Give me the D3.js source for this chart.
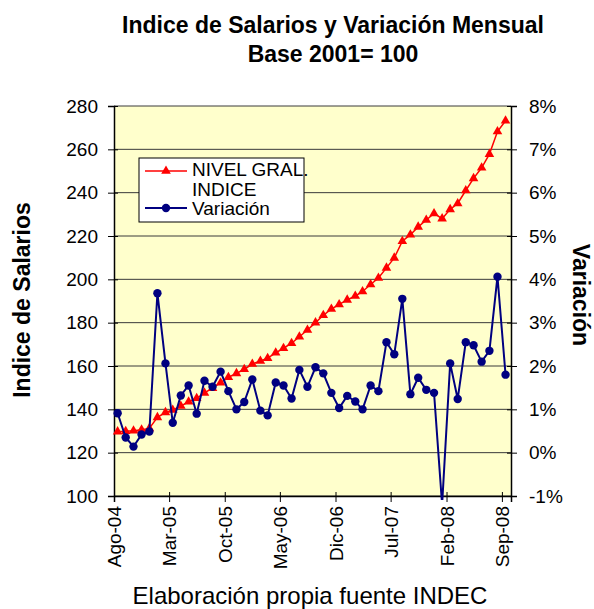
<!DOCTYPE html>
<html>
<head>
<meta charset="utf-8">
<title>Indice de Salarios</title>
<script src="https://cdn.jsdelivr.net/npm/d3@7"></script>
<style>
	body { margin: 0; background: white; }
	svg text { font-family: "Liberation Sans", Arial, sans-serif; fill: black; }
	.tick_label { font-size: 19px; }
	.ax_title { font-size: 23px; font-weight: bold; }
</style>
</head>
<body>
<svg id="chart" width="594" height="609"></svg>
<script>

	// monthly, Ago-04 .. Sep-08
	var nivel = [
		129.7, 129.9, 130.1, 130.6, 131.2, 136.3, 138.6, 139.7, 141.5, 143.5,
		145.1, 147.6, 149.8, 152.3, 154.8, 156.6, 158.5, 160.9, 162.3, 163.6,
		166.1, 168.2, 170.5, 173.5, 176.6, 180.0, 183.4, 186.3, 188.4, 190.5,
		192.3, 194.4, 197.6, 200.6, 205.3, 209.9, 217.6, 220.6, 224.2, 227.4,
		230.4, 228.0, 232.3, 235.0, 241.0, 246.6, 251.5, 257.8, 268.2, 273.2 ]

	var variacion = [
		0.91, 0.35, 0.14, 0.42, 0.49, 3.68, 2.06, 0.69, 1.32, 1.55,
		0.90, 1.66, 1.52, 1.87, 1.42, 1.00, 1.17, 1.69, 0.97, 0.86,
		1.62, 1.55, 1.25, 1.91, 1.52, 1.97, 1.83, 1.38, 1.03, 1.31,
		1.18, 1.00, 1.55, 1.42, 2.55, 2.27, 3.55, 1.35, 1.73, 1.45,
		1.38, -1.20, 2.06, 1.24, 2.55, 2.48, 2.10, 2.35, 4.06, 1.80 ]

	var tick_labels = [ "Ago-04", "Mar-05", "Oct-05", "May-06", "Dic-06", "Jul-07", "Feb-08", "Sep-08" ]
	var left_ticks = d3.range( 100, 281, 20 )
	var right_ticks = d3.range( -1, 9, 1 )

	// data points sit mid-month, ticks on the first day
	var months = d3.timeMonth.range( new Date( 2004, 7, 1 ), new Date( 2008, 9, 1 ) )
	var data = months.map( function( m, i ) {
		return { date: d3.timeDay.offset( m, 14 ), nivel: nivel[i], variacion: variacion[i] } } )
	var tick_dates = d3.range( 0, 50, 7 ).map( i => months[i] )

	var pLeft = 114, pRight = 511, pTop = 106, pBottom = 496

	var x = d3.scaleTime()
		.domain( [ new Date( 2004, 7, 1 ), new Date( 2008, 9, 6 ) ] )
		.range( [ pLeft, pRight ] )
	var yL = d3.scaleLinear().domain( [ 100, 280 ] ).range( [ pBottom, pTop ] )
	var yR = d3.scaleLinear().domain( [ -1, 8 ] ).range( [ pBottom, pTop ] )

	var svg = d3.select( "#chart" )

	svg.append( "rect" )
		.attr( "x", pLeft ).attr( "y", pTop )
		.attr( "width", pRight - pLeft ).attr( "height", pBottom - pTop )
		.attr( "fill", "#ffffcc" )

	svg.append( "clipPath" ).attr( "id", "clip" )
		.append( "rect" )
			.attr( "x", pLeft - 6 ).attr( "y", pTop - 6 )
			.attr( "width", pRight - pLeft + 12 ).attr( "height", pBottom - pTop + 10 )

	// gridlines
	svg.append( "g" )
		.selectAll( "line" )
		.data( left_ticks ).enter().append( "line" )
			.attr( "x1", pLeft ).attr( "x2", pRight )
			.attr( "y1", d => yL( d ) ).attr( "y2", d => yL( d ) )
			.attr( "stroke", "#3a3a3a" ).attr( "stroke-width", 1 )

	// axes
	var axL = svg.append( "g" ).attr( "transform", "translate(" + pLeft + ",0)" )
		.call( d3.axisLeft( yL ).tickValues( left_ticks ).tickSize( 6 ).tickPadding( 10 ) )
	var axR = svg.append( "g" ).attr( "transform", "translate(" + pRight + ",0)" )
		.call( d3.axisRight( yR ).tickValues( right_ticks ).tickSize( 6 ).tickPadding( 12 )
			.tickFormat( d => d + "%" ) )
	var axB = svg.append( "g" ).attr( "transform", "translate(0," + pBottom + ")" )
		.call( d3.axisBottom( x ).tickValues( tick_dates ).tickSize( 6 )
			.tickFormat( ( d, i ) => tick_labels[i] ) )

	;[ axL, axR, axB ].forEach( function( ax ) {
		ax.attr( "font-size", null ).attr( "font-family", null )
		ax.select( ".domain" ).attr( "stroke", "black" ).attr( "stroke-width", 1.5 )
		ax.selectAll( ".tick line" ).attr( "stroke", "black" ).attr( "stroke-width", 1 )
		ax.selectAll( "text" ).attr( "class", "tick_label" ).attr( "fill", "black" )
	} )
	axL.selectAll( ".tick line" ).attr( "x2", -6 ).attr( "x1", 4 )
	axR.selectAll( ".tick line" ).attr( "x1", -4 ).attr( "x2", 6 )
	axB.selectAll( ".tick line" ).attr( "y1", -4 ).attr( "y2", 6 )
	axB.selectAll( "text" )
		.attr( "transform", "rotate(-90)" )
		.attr( "text-anchor", "end" )
		.attr( "x", -10 ).attr( "y", 0 ).attr( "dy", "0.35em" )

	var plot = svg.append( "g" ).attr( "clip-path", "url(#clip)" )

	// NIVEL GRAL. INDICE
	plot.append( "path" )
		.datum( data )
		.attr( "fill", "none" ).attr( "stroke", "#ff0000" ).attr( "stroke-width", 1.5 )
		.attr( "d", d3.line().x( d => x( d.date ) ).y( d => yL( d.nivel ) ) )
	plot.selectAll( "path.tri" )
		.data( data ).enter().append( "path" )
			.attr( "class", "tri" )
			.attr( "d", d3.symbol( d3.symbolTriangle, 40 ) )
			.attr( "transform", d => "translate(" + x( d.date ) + "," + yL( d.nivel ) + ")" )
			.attr( "fill", "#ff0000" )

	// Variacion
	plot.append( "path" )
		.datum( data )
		.attr( "fill", "none" ).attr( "stroke", "#000080" ).attr( "stroke-width", 2 )
		.attr( "d", d3.line().x( d => x( d.date ) ).y( d => yR( d.variacion ) ) )
	plot.selectAll( "circle" )
		.data( data.filter( d => d.variacion >= -1 ) ).enter().append( "circle" )
			.attr( "cx", d => x( d.date ) )
			.attr( "cy", d => yR( d.variacion ) )
			.attr( "r", 4.2 )
			.attr( "fill", "#000080" )

	// legend
	var lg = svg.append( "g" )
	lg.append( "rect" )
		.attr( "x", 139 ).attr( "y", 158 ).attr( "width", 165 ).attr( "height", 64 )
		.attr( "fill", "white" ).attr( "stroke", "black" ).attr( "stroke-width", 1 )
	lg.append( "line" ).attr( "x1", 145 ).attr( "x2", 187 ).attr( "y1", 171 ).attr( "y2", 171 )
		.attr( "stroke", "#ff0000" ).attr( "stroke-width", 1.5 )
	lg.append( "path" ).attr( "d", d3.symbol( d3.symbolTriangle, 40 ) )
		.attr( "transform", "translate(166,171)" ).attr( "fill", "#ff0000" )
	lg.append( "line" ).attr( "x1", 145 ).attr( "x2", 187 ).attr( "y1", 208 ).attr( "y2", 208 )
		.attr( "stroke", "#000080" ).attr( "stroke-width", 2 )
	lg.append( "circle" ).attr( "cx", 166 ).attr( "cy", 208 ).attr( "r", 4.2 ).attr( "fill", "#000080" )
	lg.append( "text" ).attr( "class", "tick_label" ).attr( "x", 192 ).attr( "y", 176 ).text( "NIVEL GRAL." )
	lg.append( "text" ).attr( "class", "tick_label" ).attr( "x", 192 ).attr( "y", 196 ).text( "INDICE" )
	lg.append( "text" ).attr( "class", "tick_label" ).attr( "x", 192 ).attr( "y", 215 ).text( "Variación" )

	// titles
	svg.append( "text" ).attr( "class", "ax_title" )
		.attr( "x", 333 ).attr( "y", 33 ).attr( "text-anchor", "middle" )
		.text( "Indice de Salarios y Variación Mensual" )
	svg.append( "text" ).attr( "class", "ax_title" )
		.attr( "x", 333 ).attr( "y", 62 ).attr( "text-anchor", "middle" )
		.text( "Base 2001= 100" )
	svg.append( "text" ).attr( "class", "ax_title" )
		.attr( "transform", "translate(30,300) rotate(-90)" ).attr( "text-anchor", "middle" )
		.text( "Indice de Salarios" )
	svg.append( "text" ).attr( "class", "ax_title" )
		.attr( "transform", "translate(573,295) rotate(90)" ).attr( "text-anchor", "middle" )
		.text( "Variación" )
	svg.append( "text" )
		.attr( "x", 310 ).attr( "y", 604 ).attr( "text-anchor", "middle" )
		.attr( "font-size", "24px" )
		.text( "Elaboración propia fuente INDEC" )

</script>
</body>
</html>
